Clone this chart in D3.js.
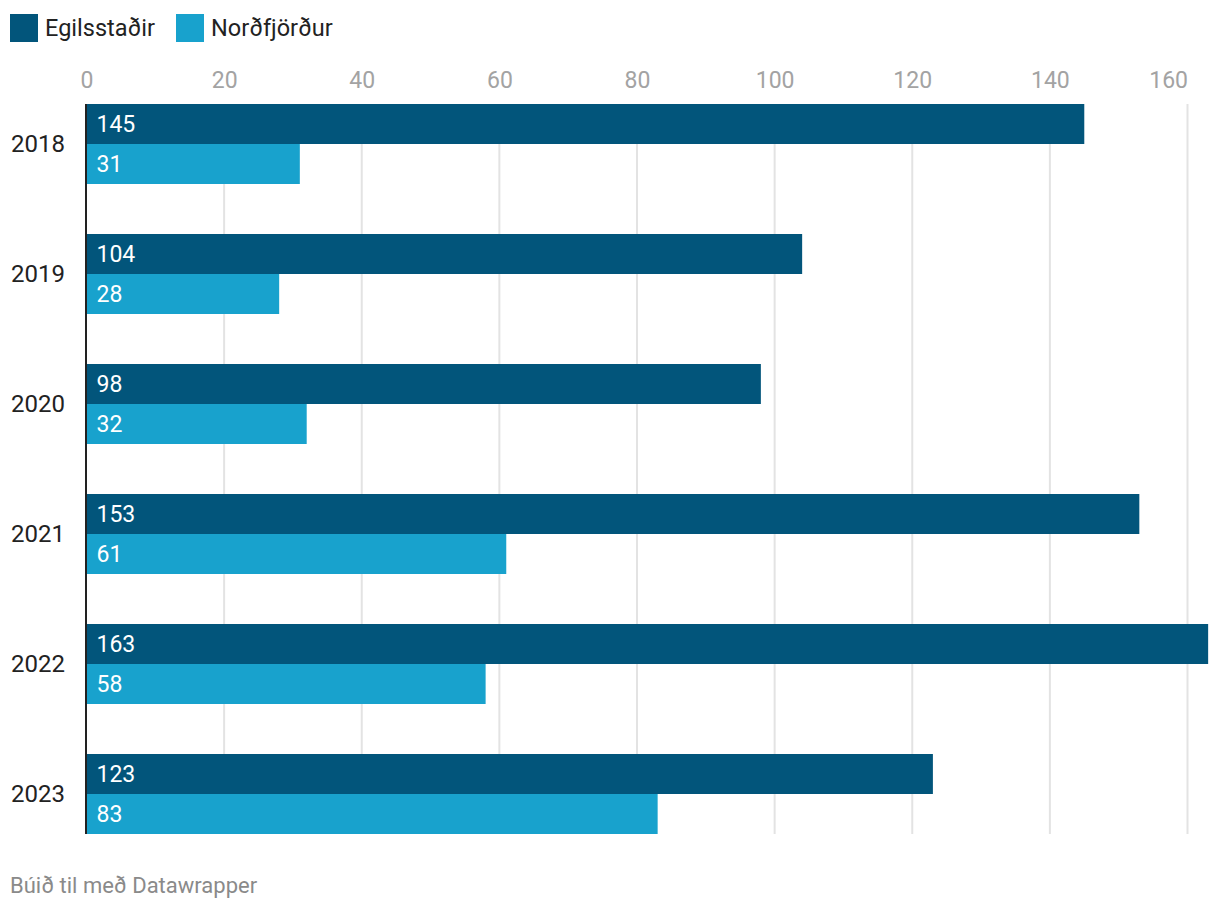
<!DOCTYPE html>
<html>
<head>
<meta charset="utf-8">
<script src="https://cdn.jsdelivr.net/npm/d3@7"></script>
<style>
  html, body { margin: 0; padding: 0; background: #fff; }
  svg { display: block; font-family: Roboto, sans-serif; }
</style>
</head>
<body>
<svg id="chart" width="1220" height="912"></svg>
<script>
const years = ["2018", "2019", "2020", "2021", "2022", "2023"];
const seriesNames = ["Egilsstaðir", "Norðfjörður"];
const egilsstadir = [145, 104, 98, 153, 163, 123];
const nordfjordur = [31, 28, 32, 61, 58, 83];
const tickValues = [0, 20, 40, 60, 80, 100, 120, 140, 160];
const colors = ["#02557b", "#18a2cd"];

const seriesValues = [egilsstadir, nordfjordur];
const data = years.map((y, i) => ({ year: y, values: seriesNames.map((s, j) => ({ key: s, value: seriesValues[j][i] })) }));

const svg = d3.select("#chart");
const x = d3.scaleLinear().domain([0, 160]).range([86.5, 1187.5]);
const y = d3.scaleBand().domain(years).range([104, 834]).paddingInner(50 / 130).paddingOuter(0);
const ySub = d3.scaleBand().domain(seriesNames).range([0, y.bandwidth()]);
const color = d3.scaleOrdinal().domain(seriesNames).range(colors);

// Legend
const legend = svg.append("g");
const legendX = [10, 176];
seriesNames.forEach((s, i) => {
  const g = legend.append("g").attr("transform", `translate(${legendX[i]},14)`);
  g.append("rect").attr("width", 28).attr("height", 28).attr("fill", color(s));
  g.append("text").attr("x", 35).attr("y", 14).attr("dy", "0.35em")
    .attr("font-size", 23.5).attr("fill", "#222").text(s);
});

// Gridlines
svg.append("g").selectAll("line").data(tickValues.filter(t => t > 0)).join("line")
  .attr("x1", d => x(d)).attr("x2", d => x(d))
  .attr("y1", 104).attr("y2", 834)
  .attr("stroke", "#e3e3e3").attr("stroke-width", 2);

// Top axis labels
const axis = d3.axisTop(x).tickValues(tickValues).tickSize(0).tickPadding(0);
const ag = svg.append("g").attr("transform", "translate(0,88)").call(axis);
ag.select(".domain").remove();
ag.selectAll("text").attr("font-size", 23).attr("fill", "#a3a3a3")
  .attr("font-family", "Roboto, sans-serif").attr("dy", 0)
  .attr("text-anchor", d => d === tickValues[tickValues.length - 1] ? "end" : "middle");

// Bars
const groups = svg.append("g").selectAll("g").data(data).join("g")
  .attr("transform", d => `translate(0,${y(d.year)})`);
groups.selectAll("rect").data(d => d.values).join("rect")
  .attr("x", x(0)).attr("y", d => ySub(d.key))
  .attr("width", d => x(d.value) - x(0)).attr("height", ySub.bandwidth())
  .attr("fill", d => color(d.key));
groups.selectAll("text.val").data(d => d.values).join("text")
  .attr("class", "val")
  .attr("x", x(0) + 10).attr("y", d => ySub(d.key) + ySub.bandwidth() / 2)
  .attr("dy", "0.35em").attr("font-size", 23).attr("fill", "#fff")
  .text(d => d.value);

// Year labels
svg.append("g").selectAll("text").data(years).join("text")
  .attr("x", 65).attr("y", d => y(d) + y.bandwidth() / 2)
  .attr("dy", "0.35em").attr("text-anchor", "end")
  .attr("font-size", 24).attr("fill", "#222").text(d => d);

// Baseline axis
svg.append("line").attr("x1", 86).attr("x2", 86).attr("y1", 104).attr("y2", 834)
  .attr("stroke", "#222").attr("stroke-width", 2);

// Footer
svg.append("text").attr("x", 10).attr("y", 893).attr("font-size", 22)
  .attr("fill", "#8a8a8a").text("Búið til með Datawrapper");
</script>
</body>
</html>
